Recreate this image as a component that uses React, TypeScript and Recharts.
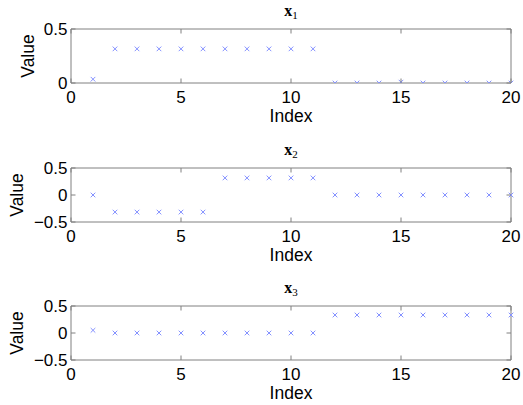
import React from 'react';
import { ScatterChart, Scatter, XAxis, YAxis, Label } from 'recharts';

const indices = [1, 2, 3, 4, 5, 6, 7, 8, 9, 10, 11, 12, 13, 14, 15, 16, 17, 18, 19, 20];
const x1Values = [0.035, 0.316, 0.316, 0.316, 0.316, 0.316, 0.316, 0.316, 0.316, 0.316, 0.316, 0, 0, 0, 0.008, 0, 0, 0, 0, 0];
const x2Values = [0, -0.316, -0.316, -0.316, -0.316, -0.316, 0.316, 0.316, 0.316, 0.316, 0.316, 0, 0, 0, 0, 0, 0, 0, 0, 0];
const x3Values = [0.05, 0, 0, 0, 0, 0, 0, 0, 0, 0, 0, 0.333, 0.333, 0.333, 0.333, 0.333, 0.333, 0.333, 0.333, 0.333];

const xTicks = [0, 5, 10, 15, 20];
const yTicksPositive = [0, 0.5];
const yTicksFull = [-0.5, 0, 0.5];
const titles = ['1', '2', '3'];
const xLabel = 'Index';
const yLabel = 'Value';

const FONT = '"Liberation Sans", Arial, Helvetica, sans-serif';
const BOX = '#808080';
const TICK_LEN = 4.5;
const MARK = '#8592ff';

const fmt = (v: number) => (v < 0 ? '\u2212' + String(Math.abs(v)) : String(v));

const BottomTick = (p: any) => (
  <g>
    <line x1={p.x} x2={p.x} y1={p.y} y2={p.y - TICK_LEN} stroke={BOX} strokeWidth={1} />
    <text x={p.x} y={p.y + 20} textAnchor="middle" fontFamily={FONT} fontSize={17} fill="#000">
      {fmt(p.payload.value)}
    </text>
  </g>
);

const TopTick = (p: any) => (
  <line x1={p.x} x2={p.x} y1={p.y} y2={p.y + TICK_LEN} stroke={BOX} strokeWidth={1} />
);

const LeftTick = (p: any) => (
  <g>
    <line x1={p.x} x2={p.x + TICK_LEN} y1={p.y} y2={p.y} stroke={BOX} strokeWidth={1} />
    <text x={p.x - 3.5} y={p.y} dy="0.36em" textAnchor="end" fontFamily={FONT} fontSize={17} fill="#000">
      {fmt(p.payload.value)}
    </text>
  </g>
);

const RightTick = (p: any) => (
  <line x1={p.x} x2={p.x - TICK_LEN} y1={p.y} y2={p.y} stroke={BOX} strokeWidth={1} />
);

const CrossShape = (p: any) => {
  const { cx, cy } = p;
  if (cx == null || cy == null) return null;
  const s = 2.3;
  return (
    <g>
      <line x1={cx - s} y1={cy - s} x2={cx + s} y2={cy + s} stroke={MARK} strokeWidth={1} />
      <line x1={cx - s} y1={cy + s} x2={cx + s} y2={cy - s} stroke={MARK} strokeWidth={1} />
    </g>
  );
};

type PanelProps = {
  values: number[];
  yDomain: [number, number];
  yTicks: number[];
  sub: string;
  top: number;
  yLabelX: number;
};

const Panel = ({ values, yDomain, yTicks, sub, top, yLabelX }: PanelProps) => {
  const data = indices.map((idx, i) => ({ idx, v: values[i] }));
  return (
    <div style={{ position: 'absolute', left: 0, top, width: 523, height: 138 }}>
      <ScatterChart width={523} height={138} margin={{ top: 0, right: 0, bottom: 0, left: 0 }}>
        <XAxis
          xAxisId="b"
          dataKey="idx"
          type="number"
          domain={[0, 20]}
          ticks={xTicks}
          tickSize={0}
          tickMargin={0}
          tickLine={false}
          tick={<BottomTick />}
          axisLine={{ stroke: BOX }}
          height={55}
          interval={0}
        >
          <Label
            content={(lp: any) => {
              const vb = lp.viewBox;
              return (
                <text
                  x={vb.x + vb.width / 2}
                  y={vb.y + 38.7}
                  textAnchor="middle"
                  fontFamily={FONT}
                  fontSize={17.5}
                  fill="#000"
                >
                  {xLabel}
                </text>
              );
            }}
          />
        </XAxis>
        <XAxis
          xAxisId="t"
          orientation="top"
          dataKey="idx"
          type="number"
          domain={[0, 20]}
          ticks={xTicks}
          tickSize={0}
          tickMargin={0}
          tickLine={false}
          tick={<TopTick />}
          axisLine={{ stroke: BOX }}
          height={29}
          interval={0}
        >
          <Label
            content={(lp: any) => {
              const vb = lp.viewBox;
              return (
                <text
                  x={vb.x + vb.width / 2}
                  y={16}
                  textAnchor="middle"
                  fontFamily='"Liberation Serif", "DejaVu Serif", serif'
                  fontSize={16}
                  fill="#000"
                >
                  <tspan fontWeight="bold">x</tspan>
                  <tspan fontSize={11} dy={3}>{sub}</tspan>
                </text>
              );
            }}
          />
        </XAxis>
        <YAxis
          yAxisId="l"
          dataKey="v"
          type="number"
          domain={yDomain}
          ticks={yTicks}
          tickSize={0}
          tickMargin={0}
          tickLine={false}
          tick={<LeftTick />}
          axisLine={{ stroke: BOX }}
          width={71}
          interval={0}
          allowDataOverflow
        >
          <Label
            content={(lp: any) => {
              const vb = lp.viewBox;
              const cy = vb.y + vb.height / 2;
              return (
                <text
                  x={yLabelX}
                  y={cy}
                  dy="0.36em"
                  textAnchor="middle"
                  transform={`rotate(-90, ${yLabelX}, ${cy})`}
                  fontFamily={FONT}
                  fontSize={17.5}
                  fill="#000"
                >
                  {yLabel}
                </text>
              );
            }}
          />
        </YAxis>
        <YAxis
          yAxisId="r"
          orientation="right"
          dataKey="v"
          type="number"
          domain={yDomain}
          ticks={yTicks}
          tickSize={0}
          tickMargin={0}
          tickLine={false}
          tick={<RightTick />}
          axisLine={{ stroke: BOX }}
          width={12}
          interval={0}
          allowDataOverflow
        />
        <Scatter data={data} xAxisId="b" yAxisId="l" shape={<CrossShape />} isAnimationActive={false} />
        <Scatter data={data} xAxisId="t" yAxisId="r" shape={() => null} isAnimationActive={false} />
      </ScatterChart>
    </div>
  );
};

export default function App() {
  return (
    <div style={{ position: 'absolute', left: 0, top: 0, width: 523, height: 405, background: '#fff' }}>
      <Panel values={x1Values} yDomain={[0, 0.5]} yTicks={yTicksPositive} sub={titles[0]} top={0} yLabelX={27.5} />
      <Panel values={x2Values} yDomain={[-0.5, 0.5]} yTicks={yTicksFull} sub={titles[1]} top={138.5} yLabelX={17} />
      <Panel values={x3Values} yDomain={[-0.5, 0.5]} yTicks={yTicksFull} sub={titles[2]} top={276.5} yLabelX={17} />
    </div>
  );
}
